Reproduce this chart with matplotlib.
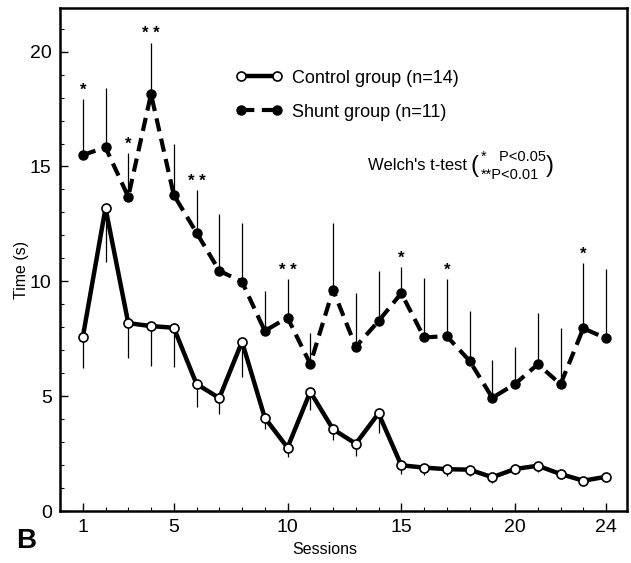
import matplotlib
matplotlib.use("Agg")
import matplotlib.pyplot as plt
from matplotlib.ticker import MultipleLocator, FixedLocator
import numpy as np

sessions = list(range(1, 25))
control_mean = [7.56, 13.19, 8.18, 8.05, 7.98, 5.53, 4.92, 7.37, 4.06, 2.76, 5.19, 3.56,
                2.93, 4.25, 1.99, 1.89, 1.82, 1.80, 1.47, 1.83, 1.97, 1.61, 1.32, 1.49]
control_sd = [1.35, 2.34, 1.53, 1.72, 1.72, 0.99, 0.70, 1.52, 0.50, 0.40, 0.79, 0.47,
              0.54, 0.84, 0.39, 0.34, 0.30, 0.28, 0.24, 0.22, 0.26, 0.19, 0.20, 0.21]
shunt_mean = [15.50, 15.83, 13.68, 18.15, 13.76, 12.12, 10.46, 9.98, 7.84, 8.42, 6.40, 9.63,
              7.15, 8.27, 9.48, 7.56, 7.61, 6.54, 4.93, 5.53, 6.39, 5.52, 7.95, 7.52]
shunt_sd = [2.44, 2.57, 1.89, 2.24, 2.22, 1.85, 2.46, 2.54, 1.75, 1.67, 1.34, 2.89,
            2.33, 2.19, 1.13, 2.60, 2.48, 2.17, 1.64, 1.62, 2.22, 2.43, 2.86, 3.00]
signif = {1: "*", 3: "*", 4: "* *", 6: "* *", 10: "* *", 15: "*", 17: "*", 23: "*"}
x_ticklabels = [1, 5, 10, 15, 20, 24]
y_ticklabels = [0, 5, 10, 15, 20]

sans = ["Liberation Sans", "DejaVu Sans"]

fig = plt.figure(figsize=(6.31, 5.63), dpi=100)
ax = fig.add_axes([60/631, 52/563, 567/631, 503/563])

zeros = np.zeros(len(sessions))
ax.errorbar(sessions, control_mean, yerr=[control_sd, zeros], fmt="none",
            ecolor="black", elinewidth=0.9, capsize=0, zorder=2)
ax.errorbar(sessions, shunt_mean, yerr=[zeros, shunt_sd], fmt="none",
            ecolor="black", elinewidth=0.9, capsize=0, zorder=2)

ax.plot(sessions, control_mean, color="black", lw=3.2, marker="o", ms=6.5,
        mfc="white", mec="black", mew=1.2, zorder=4, label="Control group (n=14)")
ax.plot(sessions, shunt_mean, color="black", lw=3.0, ls=(0, (3.2, 1.8)), marker="o",
        ms=6.5, mfc="black", mec="black", zorder=3, label="Shunt group (n=11)")

for s, lab in signif.items():
    i = sessions.index(s)
    ax.annotate(lab, (s, shunt_mean[i] + shunt_sd[i]), xytext=(0, 1),
                textcoords="offset points", ha="center", va="bottom",
                fontsize=12, fontweight="bold", family=sans)

ax.set_xlim(0.0, 24.92)
ax.set_ylim(0, 21.9)
ax.xaxis.set_major_locator(FixedLocator(x_ticklabels))
ax.xaxis.set_minor_locator(MultipleLocator(1))
ax.yaxis.set_major_locator(FixedLocator(y_ticklabels))
ax.yaxis.set_minor_locator(MultipleLocator(1))
ax.set_xticklabels([str(v) for v in x_ticklabels], family=sans, fontsize=14)
ax.set_yticklabels([str(v) for v in y_ticklabels], family=sans, fontsize=14)
ax.tick_params(which="major", direction="in", length=6, width=1.0, pad=6)
ax.tick_params(which="minor", direction="in", length=3, width=0.8)
for sp in ax.spines.values():
    sp.set_linewidth(1.8)

ax.set_xlabel("Sessions", family=sans, fontsize=11.5)
ax.set_ylabel("Time (s)", family=sans, fontsize=11.5)
ax.xaxis.set_label_coords(0.467, -0.0616)
ax.yaxis.set_label_coords(-0.0547, 0.479)

leg = ax.legend(loc="upper left", bbox_to_anchor=(0.281, 0.91), frameon=False,
                numpoints=2, handlelength=2.6, handletextpad=0.53, labelspacing=0.95,
                prop={"family": sans, "size": 13})

fig.text(467/631, 1 - 166/563, "Welch's t-test", ha="right", va="center",
         family=sans, fontsize=12)
fig.text(471/631, 1 - 166/563, "(", ha="left", va="center", family=sans,
         fontsize=17, fontweight="light")
fig.text(481/631, 1 - 157/563, "*   P<0.05", ha="left", va="center", family=sans, fontsize=10.5)
fig.text(481/631, 1 - 175/563, "**P<0.01", ha="left", va="center", family=sans, fontsize=10.5)
fig.text(546/631, 1 - 166/563, ")", ha="left", va="center", family=sans,
         fontsize=17, fontweight="light")

fig.text(16/631, 1 - 541/563, "B", ha="left", va="center", family=sans,
         fontsize=20, fontweight="bold")

fig.savefig("out.png", dpi=100)
